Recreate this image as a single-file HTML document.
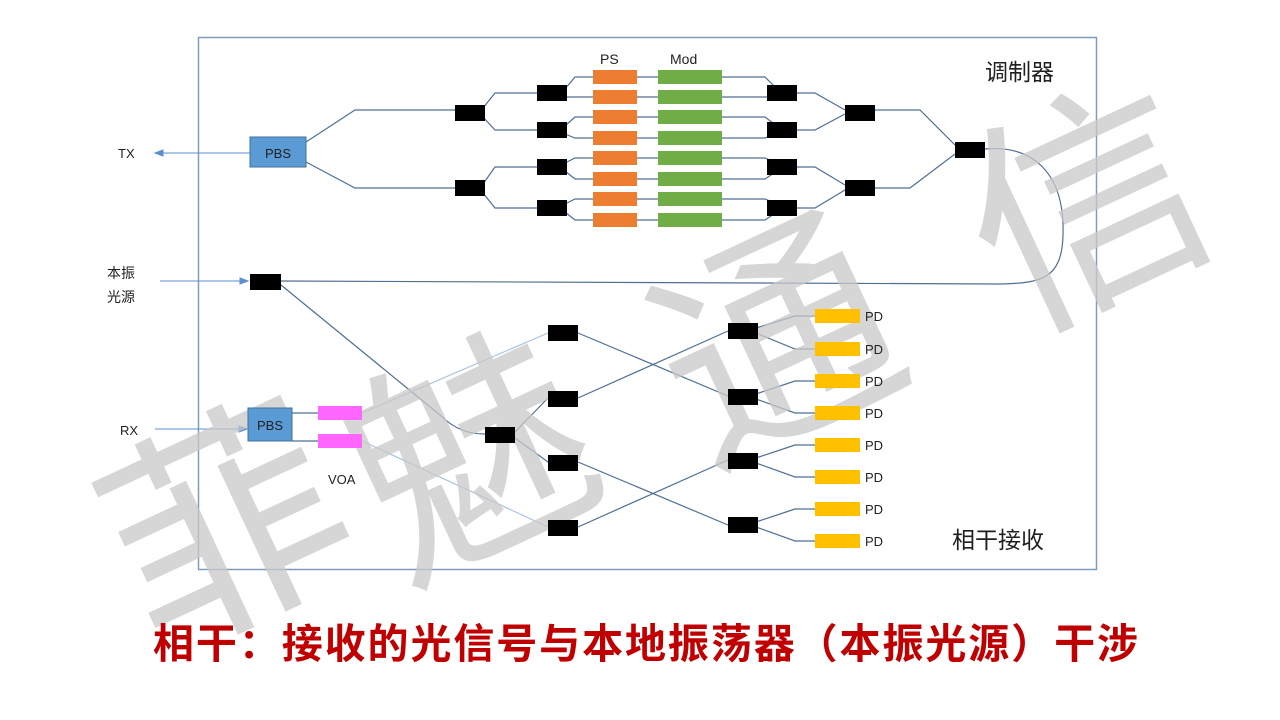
<!DOCTYPE html>
<html><head><meta charset="utf-8"><style>
html,body{margin:0;padding:0;background:#fff;width:1280px;height:720px;overflow:hidden}
</style></head><body>
<svg width="1280" height="720" viewBox="0 0 1280 720" xmlns="http://www.w3.org/2000/svg" font-family="Liberation Sans, 'Noto Sans CJK SC', sans-serif">
<rect x="198.5" y="37.5" width="898" height="532" fill="none" stroke="#7f9bbd" stroke-width="1.5"/>
<g fill="none" stroke="#4f6f95" stroke-width="1.2">
<path d="M306 142 L355 110 L455 110"/>
<path d="M306 162 L355 188 L455 188"/>
<path d="M483 108 L495 93 L537 93"/><path d="M483 117 L495 130 L537 130"/>
<path d="M483 184 L495 167 L537 167"/><path d="M483 193 L495 208 L537 208"/>
<path d="M565 89 L575 77 L765 77 L777 89"/><path d="M565 97 L575 97 L765 97 L777 97"/>
<path d="M565 126 L575 117 L765 117 L777 126"/><path d="M565 134 L575 138 L765 138 L777 134"/>
<path d="M565 163 L575 158 L765 158 L777 163"/><path d="M565 171 L575 179 L765 179 L777 171"/>
<path d="M565 204 L575 199 L765 199 L777 204"/><path d="M565 212 L575 220 L765 220 L777 212"/>
<path d="M797 93 L815 93 L845 110"/><path d="M797 130 L815 130 L845 114"/>
<path d="M797 167 L815 167 L845 185"/><path d="M797 208 L815 208 L845 190"/>
<path d="M875 110 L920 110 L955 145"/><path d="M875 188 L910 188 L955 154"/>
<path d="M985 149 C1030 145 1065 170 1063 235 C1062 280 1040 283 1000 284 L281 281"/>
<path d="M281 285 L440 415 C455 430 470 434 485 434"/>
<path d="M515 432 L548 398"/><path d="M515 438 L548 462"/>
<path d="M578 333 L728 396"/><path d="M578 398 L728 331"/>
<path d="M578 462 L728 525"/><path d="M578 527 L728 460"/>
<path d="M756 328 L795 316 L815 316"/><path d="M756 333 L795 349 L815 349"/>
<path d="M756 394 L795 381 L815 381"/><path d="M756 399 L795 413 L815 413"/>
<path d="M756 458 L795 445 L815 445"/><path d="M756 463 L795 477 L815 477"/>
<path d="M756 522 L795 509 L815 509"/><path d="M756 527 L795 541 L815 541"/>
<path d="M292 413 L318 413"/><path d="M292 441 L318 441"/>
</g>
<g fill="none" stroke="#a9c4e0" stroke-width="1.2">
<path d="M362 413 L548 333"/><path d="M362 441 L548 527"/>
</g>
<g stroke="#5b8fd0" stroke-width="1" fill="#5b8fd0">
<path d="M250 153 L160 153"/><path d="M155 153 L163 150 L163 156Z"/>
<path d="M160 281 L242 281"/><path d="M248 281 L240 278 L240 284Z"/>
<path d="M155 429 L241 429"/><path d="M247 429 L239 426 L239 432Z"/>
</g>
<g fill="#c8c8c8" fill-opacity="0.75" font-size="235" font-family="'Noto Sans CJK SC', sans-serif">
<text x="105" y="615" transform="rotate(-25 215 520)">菲</text>
<text x="350" y="545" transform="rotate(-25 460 450)">魅</text>
<text x="655" y="430" transform="rotate(-25 765 335)">通</text>
<text x="965" y="295" transform="rotate(-25 1075 200)">信</text>
</g>
<rect x="250" y="137" width="56" height="30" fill="#5b9bd5" stroke="#41719c"/>
<text x="278" y="158" font-size="13" text-anchor="middle" fill="#1f1f1f">PBS</text>
<rect x="248" y="408" width="44" height="33" fill="#5b9bd5" stroke="#41719c"/>
<text x="270" y="430" font-size="13" text-anchor="middle" fill="#1f1f1f">PBS</text>
<g fill="#ff66ff"><rect x="318" y="406" width="44" height="14"/><rect x="318" y="434" width="44" height="14"/></g>
<g fill="#ed7d31">
<rect x="593" y="70" width="44" height="14"/><rect x="593" y="90" width="44" height="14"/><rect x="593" y="110" width="44" height="14"/><rect x="593" y="131" width="44" height="14"/>
<rect x="593" y="151" width="44" height="14"/><rect x="593" y="172" width="44" height="14"/><rect x="593" y="192" width="44" height="14"/><rect x="593" y="213" width="44" height="14"/>
</g>
<g fill="#70ad47">
<rect x="658" y="70" width="64" height="14"/><rect x="658" y="90" width="64" height="14"/><rect x="658" y="110" width="64" height="14"/><rect x="658" y="131" width="64" height="14"/>
<rect x="658" y="151" width="64" height="14"/><rect x="658" y="172" width="64" height="14"/><rect x="658" y="192" width="64" height="14"/><rect x="658" y="213" width="64" height="14"/>
</g>
<g fill="#000">
<rect x="455" y="105" width="30" height="16"/><rect x="455" y="180" width="30" height="16"/>
<rect x="537" y="85" width="30" height="16"/><rect x="537" y="122" width="30" height="16"/><rect x="537" y="159" width="30" height="16"/><rect x="537" y="200" width="30" height="16"/>
<rect x="767" y="85" width="30" height="16"/><rect x="767" y="122" width="30" height="16"/><rect x="767" y="159" width="30" height="16"/><rect x="767" y="200" width="30" height="16"/>
<rect x="845" y="105" width="30" height="16"/><rect x="845" y="180" width="30" height="16"/>
<rect x="955" y="142" width="30" height="16"/>
<rect x="250" y="274" width="31" height="16"/>
<rect x="485" y="427" width="30" height="16"/>
<rect x="548" y="325" width="30" height="16"/><rect x="548" y="391" width="30" height="16"/><rect x="548" y="455" width="30" height="16"/><rect x="548" y="520" width="30" height="16"/>
<rect x="728" y="323" width="30" height="16"/><rect x="728" y="389" width="30" height="16"/><rect x="728" y="453" width="30" height="16"/><rect x="728" y="517" width="30" height="16"/>
</g>
<g fill="#ffc000">
<rect x="815" y="309" width="45" height="14"/><rect x="815" y="342" width="45" height="14"/><rect x="815" y="374" width="45" height="14"/><rect x="815" y="406" width="45" height="14"/>
<rect x="815" y="438" width="45" height="14"/><rect x="815" y="470" width="45" height="14"/><rect x="815" y="502" width="45" height="14"/><rect x="815" y="534" width="45" height="14"/>
</g>
<g font-size="13" fill="#1f1f1f">
<text x="865" y="321">PD</text><text x="865" y="354">PD</text><text x="865" y="386">PD</text><text x="865" y="418">PD</text>
<text x="865" y="450">PD</text><text x="865" y="482">PD</text><text x="865" y="514">PD</text><text x="865" y="546">PD</text>
<text x="600" y="64" font-size="14">PS</text><text x="670" y="64" font-size="14">Mod</text>
<text x="118" y="158">TX</text><text x="120" y="435">RX</text>
<text x="328" y="484">VOA</text>
<text x="107" y="278" font-family="'Noto Sans CJK SC', sans-serif" font-size="14">本振</text>
<text x="107" y="302" font-family="'Noto Sans CJK SC', sans-serif" font-size="14">光源</text>
</g>
<text x="985" y="80" font-size="23" fill="#1f1f1f" font-family="'Noto Sans CJK SC', sans-serif">调制器</text>
<text x="952" y="548" font-size="23" fill="#1f1f1f" font-family="'Noto Sans CJK SC', sans-serif">相干接收</text>
<text x="153" y="658" font-size="41" font-weight="bold" fill="#c00000" font-family="'Noto Sans CJK SC', sans-serif" textLength="985">相干：接收的光信号与本地振荡器（本振光源）干涉</text>
</svg>
</body></html>
